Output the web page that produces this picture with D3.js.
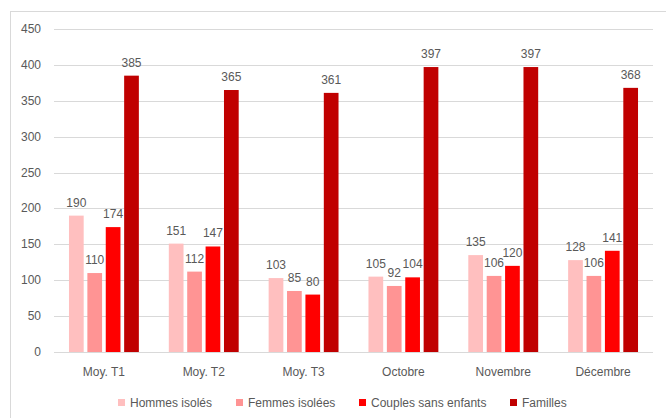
<!DOCTYPE html>
<html>
<head>
<meta charset="utf-8">
<script src="https://cdn.jsdelivr.net/npm/d3@7"></script>
<style>
  body { margin: 0; background: #fff; }
  text { font-family: "Liberation Sans", "DejaVu Sans", sans-serif; fill: #595959; }
</style>
</head>
<body>
<div id="chart"></div>
<script>
// categories and series
var categories = ["Moy. T1", "Moy. T2", "Moy. T3", "Octobre", "Novembre", "Décembre"];
var seriesNames = ["Hommes isolés", "Femmes isolées", "Couples sans enfants", "Familles"];
var seriesColors = ["#ffbfbf", "#ff9494", "#ff0000", "#c00000"];
var hommes = [190, 151, 103, 105, 135, 128];
var femmes = [110, 112, 85, 92, 106, 106];
var couples = [174, 147, 80, 104, 120, 141];
var familles = [385, 365, 361, 397, 397, 368];
var yTicks = [0, 50, 100, 150, 200, 250, 300, 350, 400, 450];

var values = [hommes, femmes, couples, familles];

var width = 666, height = 418;

var svg = d3.select("#chart").append("svg")
    .attr("width", width)
    .attr("height", height);

// chart border
svg.append("rect")
    .attr("x", 10.5)
    .attr("y", 11.5)
    .attr("width", 700)
    .attr("height", 450)
    .attr("fill", "none")
    .attr("stroke", "#d9d9d9");

var x = d3.scaleBand()
    .domain(categories)
    .range([54, 653])
    .paddingInner(0.3)
    .paddingOuter(0.15);

var xInner = d3.scaleBand()
    .domain(seriesNames)
    .range([0, x.bandwidth()])
    .paddingInner(0.2);

var y = d3.scaleLinear()
    .domain([0, 450])
    .range([352, 29]);

// gridlines
svg.selectAll("line.grid")
    .data(yTicks)
    .enter()
    .append("line")
    .attr("class", "grid")
    .attr("x1", 54)
    .attr("x2", 653)
    .attr("y1", function(d) { return Math.round(y(d)) + 0.5; })
    .attr("y2", function(d) { return Math.round(y(d)) + 0.5; })
    .attr("stroke", "#d9d9d9")
    .attr("stroke-width", 1);

// y labels
svg.selectAll("text.ylab")
    .data(yTicks)
    .enter()
    .append("text")
    .attr("class", "ylab")
    .attr("x", 41)
    .attr("y", function(d) { return y(d) + 4; })
    .attr("text-anchor", "end")
    .attr("font-size", "12px")
    .text(function(d) { return d; });

// bars
var groups = svg.selectAll("g.cat")
    .data(categories)
    .enter()
    .append("g")
    .attr("class", "cat")
    .attr("transform", function(d) { return "translate(" + x(d) + ",0)"; });

seriesNames.forEach(function(s, si) {
    groups.append("rect")
        .attr("x", xInner(s))
        .attr("y", function(d, i) { return y(values[si][i]); })
        .attr("width", xInner.bandwidth())
        .attr("height", function(d, i) { return y(0) - y(values[si][i]); })
        .attr("fill", seriesColors[si]);

    groups.append("text")
        .attr("x", xInner(s) + xInner.bandwidth() / 2)
        .attr("y", function(d, i) { return y(values[si][i]) - 9; })
        .attr("text-anchor", "middle")
        .attr("font-size", "12px")
        .text(function(d, i) { return values[si][i]; });
});

// category labels
svg.selectAll("text.xlab")
    .data(categories)
    .enter()
    .append("text")
    .attr("class", "xlab")
    .attr("x", function(d) { return x(d) + x.bandwidth() / 2; })
    .attr("y", 376)
    .attr("text-anchor", "middle")
    .attr("font-size", "12px")
    .text(function(d) { return d; });

// legend
var legendX = [118, 236, 359, 510];
var legend = svg.selectAll("g.legend")
    .data(seriesNames)
    .enter()
    .append("g")
    .attr("class", "legend")
    .attr("transform", function(d, i) { return "translate(" + legendX[i] + ",399)"; });

legend.append("rect")
    .attr("width", 7)
    .attr("height", 7)
    .attr("fill", function(d, i) { return seriesColors[i]; });

legend.append("text")
    .attr("x", 12)
    .attr("y", 8)
    .attr("font-size", "12px")
    .text(function(d) { return d; });
</script>
</body>
</html>
